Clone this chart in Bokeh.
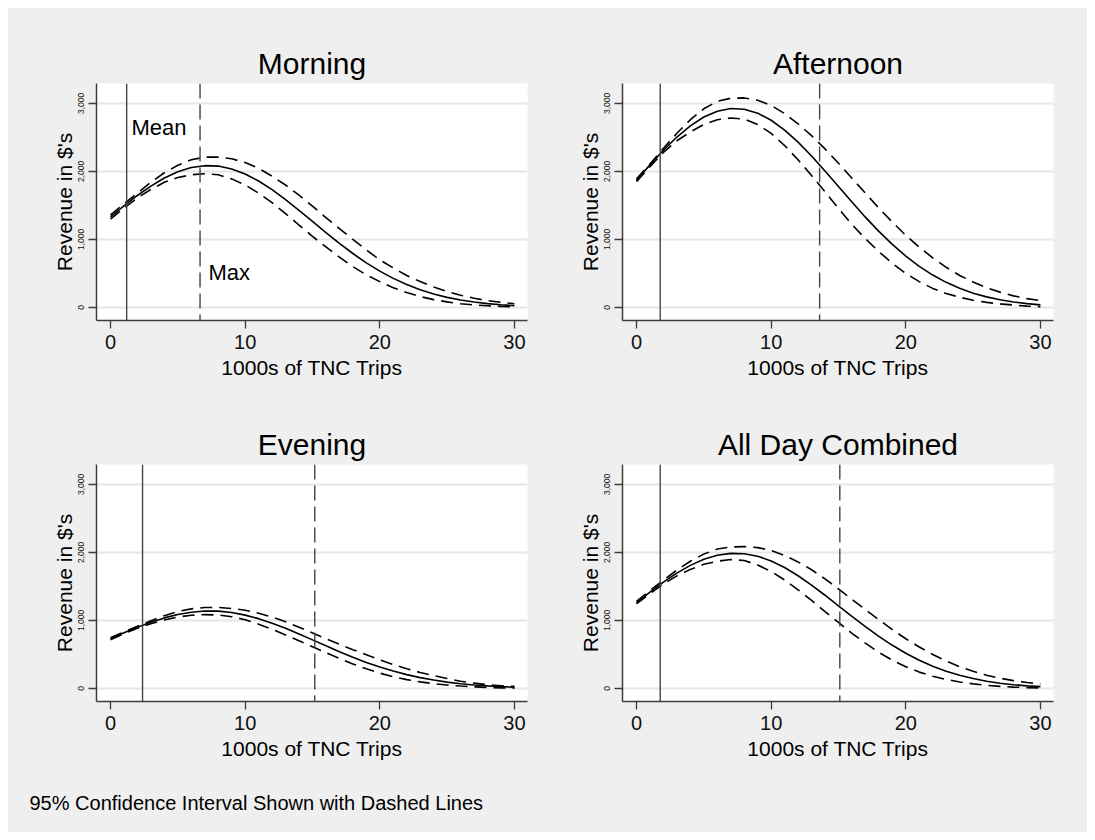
from bokeh.plotting import figure
from bokeh.layouts import column, row
from bokeh.models import Span, Label, Range1d, FixedTicker, NumeralTickFormatter
from bokeh.embed import file_html
from bokeh.resources import INLINE

# ---------------- data ----------------
trips = list(range(0, 31))

morning_fit = [1330, 1492, 1646, 1784, 1903, 1995, 2056, 2084, 2078, 2036, 1961, 1858, 1731, 1585,
               1428, 1264, 1101, 942, 793, 656, 534, 427, 336, 260, 198, 148, 109, 79, 56, 39, 27]
morning_hi = [1360, 1525, 1680, 1840, 1980, 2090, 2170, 2210, 2210, 2185, 2130, 2045, 1930, 1800,
              1650, 1490, 1320, 1160, 1000, 845, 700, 580, 470, 380, 300, 235, 180, 135, 100, 75, 55]
morning_lo = [1300, 1460, 1610, 1735, 1840, 1910, 1950, 1965, 1950, 1890, 1800, 1680, 1540, 1380,
              1210, 1045, 890, 740, 600, 480, 380, 290, 220, 160, 115, 82, 55, 38, 25, 16, 10]

afternoon_fit = [1870, 2096, 2311, 2505, 2670, 2799, 2885, 2924, 2914, 2856, 2752, 2608, 2431, 2227,
                 2007, 1778, 1549, 1327, 1118, 926, 755, 604, 476, 369, 281, 210, 155, 112, 80, 56, 38]
afternoon_hi = [1890, 2110, 2340, 2560, 2760, 2920, 3030, 3075, 3080, 3045, 2970, 2850, 2700, 2525,
                2330, 2120, 1900, 1680, 1460, 1255, 1060, 885, 730, 590, 470, 375, 290, 225, 170, 130, 100]
afternoon_lo = [1850, 2070, 2280, 2450, 2580, 2690, 2760, 2785, 2770, 2690, 2560, 2380, 2170, 1940,
                1700, 1455, 1220, 1010, 820, 650, 500, 380, 280, 205, 150, 105, 75, 52, 35, 20, 10]

evening_fit = [731, 818, 900, 974, 1037, 1087, 1121, 1138, 1136, 1116, 1078, 1026, 960, 884,
               801, 714, 626, 540, 459, 383, 315, 255, 203, 159, 123, 93, 69, 51, 37, 26, 18]
evening_hi = [745, 830, 915, 995, 1070, 1130, 1170, 1190, 1190, 1175, 1150, 1105, 1050, 980,
              900, 815, 730, 650, 570, 495, 420, 352, 290, 235, 190, 145, 105, 78, 55, 40, 30]
evening_lo = [717, 805, 885, 950, 1005, 1050, 1075, 1085, 1080, 1055, 1010, 945, 870, 787,
              700, 612, 525, 440, 360, 288, 225, 172, 130, 97, 70, 50, 35, 24, 15, 9, 5]

allday_fit = [1262, 1416, 1562, 1695, 1809, 1898, 1958, 1986, 1981, 1943, 1874, 1777, 1657, 1520,
              1370, 1215, 1059, 908, 765, 634, 517, 414, 327, 253, 193, 145, 106, 77, 55, 38, 27]
allday_hi = [1280, 1440, 1590, 1740, 1870, 1975, 2050, 2080, 2085, 2070, 2030, 1955, 1860, 1745,
             1610, 1465, 1310, 1160, 1010, 865, 730, 610, 500, 405, 320, 252, 195, 150, 115, 88, 65]
allday_lo = [1245, 1395, 1535, 1655, 1750, 1825, 1870, 1895, 1880, 1815, 1720, 1595, 1450, 1295,
             1130, 970, 810, 665, 530, 415, 320, 240, 180, 132, 95, 67, 45, 30, 20, 12, 7]

panel_titles = ["Morning", "Afternoon", "Evening", "All Day Combined"]
mean_trips = [1.2, 1.76, 2.38, 1.76]
max_trips = [6.65, 13.6, 15.17, 15.1]

x_ticks = [0, 10, 20, 30]
y_ticks = [0, 1000, 2000, 3000]
x_label = "1000s of TNC Trips"
y_label = "Revenue in $'s"
footer = "95% Confidence Interval Shown with Dashed Lines"

# ---------------- style ----------------
BG = "#efefef"
FONT = "Liberation Sans"
AXC = "#3c3c3c"


def make_panel(title, fit, hi, lo, mean_x, max_x, width, height, bl, br, bt, bb):
    p = figure(width=width, height=height,
               x_range=Range1d(-1.04, 30.97), y_range=Range1d(-192, 3292),
               output_backend="svg", toolbar_location=None,
               min_border_left=bl, min_border_right=br,
               min_border_top=bt, min_border_bottom=bb)
    p.background_fill_color = "white"
    p.border_fill_color = BG
    p.outline_line_color = None

    p.title.text = title
    p.title.text_font = FONT
    p.title.text_font_size = "30px"
    p.title.text_font_style = "normal"
    p.title.text_color = "black"
    p.title.align = "center"
    p.title.standoff = 7

    p.xaxis.ticker = FixedTicker(ticks=x_ticks)
    p.yaxis.ticker = FixedTicker(ticks=y_ticks)
    p.yaxis.formatter = NumeralTickFormatter(format="0,0")
    p.xaxis.minor_tick_line_color = None
    p.yaxis.minor_tick_line_color = None
    for ax in (p.xaxis, p.yaxis):
        ax.axis_line_color = AXC
        ax.axis_line_width = 1.5
        ax.major_tick_line_color = AXC
        ax.major_tick_line_width = 1.3
        ax.major_tick_out = 8
        ax.major_tick_in = 0
        ax.major_label_text_font = FONT
        ax.major_label_text_color = "#111111"
        ax.axis_label_text_font = FONT
        ax.axis_label_text_font_style = "normal"
        ax.axis_label_text_font_size = "21px"
        ax.axis_label_text_color = "black"
    p.xaxis.major_label_text_font_size = "20px"
    p.xaxis.major_label_standoff = 6
    p.xaxis.axis_label = x_label
    p.xaxis.axis_label_standoff = 4
    p.yaxis.major_label_text_font_size = "8.5px"
    p.yaxis.major_label_orientation = "vertical"
    p.yaxis.major_label_standoff = 4
    p.yaxis.axis_label = y_label
    p.yaxis.axis_label_standoff = 0

    p.xgrid.visible = False
    p.ygrid.grid_line_color = "#e6e6e6"
    p.ygrid.grid_line_width = 2

    p.add_layout(Span(location=mean_x, dimension="height", line_color="#444444", line_width=1.4))
    p.add_layout(Span(location=max_x, dimension="height", line_color="#444444", line_width=1.4,
                      line_dash="15 6"))

    p.line(trips, hi, line_color="black", line_width=1.6, line_dash="12 7")
    p.line(trips, lo, line_color="black", line_width=1.6, line_dash="12 7")
    p.line(trips, fit, line_color="black", line_width=1.6)
    return p


LW, RW = 552, 527
TH, BH = 392, 365

p1 = make_panel(panel_titles[0], morning_fit, morning_hi, morning_lo, mean_trips[0], max_trips[0],
                LW, TH, 88, 33, 75, 80)
p2 = make_panel(panel_titles[1], afternoon_fit, afternoon_hi, afternoon_lo, mean_trips[1], max_trips[1],
                RW, TH, 62, 34, 75, 80)
p3 = make_panel(panel_titles[2], evening_fit, evening_hi, evening_lo, mean_trips[2], max_trips[2],
                LW, BH, 88, 33, 64, 64)
p4 = make_panel(panel_titles[3], allday_fit, allday_hi, allday_lo, mean_trips[3], max_trips[3],
                RW, BH, 62, 34, 64, 64)

p1.add_layout(Label(x=1.56, y=2643, text="Mean", text_font=FONT, text_font_size="22px",
                    text_baseline="middle", text_color="black"))
p1.add_layout(Label(x=7.28, y=510, text="Max", text_font=FONT, text_font_size="22px",
                    text_baseline="middle", text_color="black"))

FW, FH = LW + RW, 67
pf = figure(width=FW, height=FH, x_range=Range1d(0, FW), y_range=Range1d(0, FH),
            x_axis_type=None, y_axis_type=None, output_backend="svg", toolbar_location=None,
            min_border=0)
pf.background_fill_color = BG
pf.border_fill_color = BG
pf.outline_line_color = None
pf.xgrid.visible = False
pf.ygrid.visible = False
pf.add_layout(Label(x=21, y=30, text=footer, text_font=FONT, text_font_size="20px",
                    text_baseline="middle", text_color="black"))

layout = column(row(p1, p2), row(p3, p4), pf, margin=(8, 0, 0, 8),
                styles={"background-color": BG})
open("out.html", "w").write(file_html(layout, INLINE))
